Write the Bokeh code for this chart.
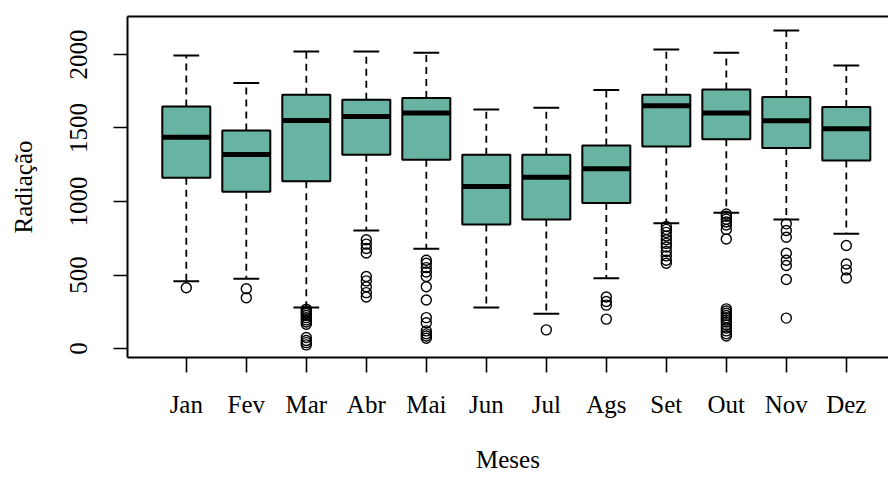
import numpy as np
from bokeh.plotting import figure
from bokeh.models import FixedTicker, LinearAxis, ColumnDataSource
from bokeh.embed import file_html
from bokeh.resources import INLINE

months = ["Jan", "Fev", "Mar", "Abr", "Mai", "Jun", "Jul", "Ags", "Set", "Out", "Nov", "Dez"]
upper = [1993, 1805, 2020, 2020, 2011, 1626, 1637, 1759, 2034, 2011, 2163, 1925]
q3 = [1646, 1483, 1726, 1692, 1703, 1318, 1318, 1381, 1726, 1762, 1710, 1642]
median = [1437, 1320, 1551, 1578, 1601, 1102, 1165, 1222, 1651, 1601, 1549, 1494]
q1 = [1161, 1066, 1138, 1318, 1284, 844, 878, 989, 1374, 1424, 1363, 1279]
lower = [458, 474, 279, 803, 678, 279, 236, 478, 852, 923, 878, 780]

outliers = {
    "Jan": [413],
    "Fev": [407, 345],
    "Mar": [268, 258, 248, 238, 225, 210, 195, 180, 165, 75, 55, 40, 25],
    "Abr": [740, 710, 680, 650, 490, 460, 420, 380, 350],
    "Mai": [600, 580, 550, 520, 490, 420, 330, 210, 175, 120, 100, 85, 70],
    "Jun": [],
    "Jul": [127],
    "Ags": [350, 320, 295, 200],
    "Set": [830, 810, 790, 765, 740, 715, 690, 660, 630, 600, 580],
    "Out": [915, 900, 880, 860, 840, 810, 745, 270, 255, 240, 225, 210, 195, 180, 160, 140, 120, 100, 85],
    "Nov": [848, 803, 757, 648, 600, 565, 469, 207],
    "Dez": [701, 575, 535, 480],
}

y_ticks = [0, 500, 1000, 1500, 2000]

FONT = "Liberation Serif"
FILL = "#69b3a2"

xs = np.arange(1, len(months) + 1)
box_w = 0.8
cap_w = 0.43

p = figure(frame_width=761, frame_height=341,
           x_range=(0.02, 12.703), y_range=(-61, 2258),
           output_backend="svg", toolbar_location=None,
           min_border_left=127, min_border_top=16, min_border_right=0,
           min_border_bottom=120, background_fill_color="white",
           border_fill_color="white")
p.outline_line_color = None
p.xgrid.visible = False
p.ygrid.visible = False

src = ColumnDataSource(dict(x=xs, upper=upper, q3=q3, median=median, q1=q1, lower=lower,
                            xl=xs - box_w / 2, xr=xs + box_w / 2,
                            cl=xs - cap_w / 2, cr=xs + cap_w / 2))

# whiskers
p.segment(x0="x", y0="q3", x1="x", y1="upper", source=src, line_color="black",
          line_width=1.8, line_dash="7 5")
p.segment(x0="x", y0="q1", x1="x", y1="lower", source=src, line_color="black",
          line_width=1.8, line_dash="7 5")
# staples
p.segment(x0="cl", y0="upper", x1="cr", y1="upper", source=src, line_color="black", line_width=2)
p.segment(x0="cl", y0="lower", x1="cr", y1="lower", source=src, line_color="black", line_width=2)
# boxes
p.vbar(x="x", width=box_w, top="q3", bottom="q1", source=src, fill_color=FILL,
       line_color="black", line_width=2)
# medians
p.segment(x0="xl", y0="median", x1="xr", y1="median", source=src, line_color="black", line_width=5)

# outliers
ox, oy = [], []
for i, m in enumerate(months):
    for v in outliers[m]:
        ox.append(i + 1)
        oy.append(v)
p.scatter(ox, oy, marker="circle", size=10, fill_color=None, line_color="black", line_width=1.4)

# axes
xa = p.xaxis[0]
xa.ticker = FixedTicker(ticks=list(xs))
xa.major_label_overrides = {int(i + 1): m for i, m in enumerate(months)}
xa.minor_tick_line_color = None
xa.major_tick_out = 15
xa.major_tick_in = 0
xa.major_tick_line_width = 1.6
xa.axis_line_width = 2
xa.major_label_text_font = FONT
xa.major_label_text_font_size = "25px"
xa.major_label_text_color = "black"
xa.major_label_standoff = 18
xa.axis_label = "Meses"
xa.axis_label_text_font = FONT
xa.axis_label_text_font_size = "25px"
xa.axis_label_text_font_style = "normal"
xa.axis_label_text_color = "black"
xa.axis_label_standoff = 25

ya = p.yaxis[0]
ya.ticker = FixedTicker(ticks=y_ticks)
ya.minor_tick_line_color = None
ya.major_tick_out = 14
ya.major_tick_in = 0
ya.major_tick_line_width = 1.6
ya.axis_line_width = 2
ya.major_label_text_font = FONT
ya.major_label_text_font_size = "25px"
ya.major_label_text_color = "black"
ya.major_label_orientation = "vertical"
ya.major_label_standoff = 26
ya.axis_label = "Radiação"
ya.axis_label_text_font = FONT
ya.axis_label_text_font_size = "25px"
ya.axis_label_text_font_style = "normal"
ya.axis_label_text_color = "black"
ya.axis_label_standoff = 31

top = LinearAxis(ticker=FixedTicker(ticks=[]), axis_line_width=2,
                 major_tick_line_color=None, minor_tick_line_color=None,
                 major_label_text_font_size="0px")
p.add_layout(top, "above")

open("out.html", "w").write(file_html(p, INLINE))
